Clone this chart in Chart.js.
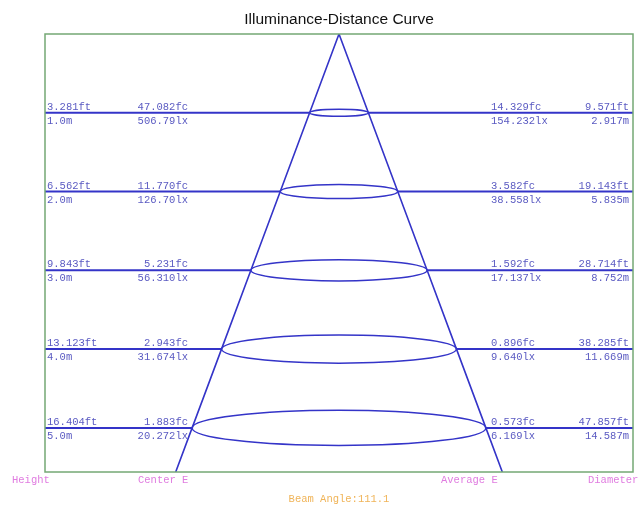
<!DOCTYPE html>
<html>
<head>
<meta charset="utf-8">
<title>Illuminance-Distance Curve</title>
<script src="https://cdn.jsdelivr.net/npm/chart.js@4"></script>
<style>
  body { margin: 0; background: #fff; }
  #wrap { width: 638px; height: 508px; }
</style>
</head>
<body>
<div id="wrap"><canvas id="curve" width="638" height="508"></canvas></div>
<script>
// values
const heightsM = [1, 2, 3, 4, 5];
const heightsFt = ['3.281', '6.562', '9.843', '13.123', '16.404'];
const centerFc = ['47.082', '11.770', '5.231', '2.943', '1.883'];
const centerLx = ['506.79', '126.70', '56.310', '31.674', '20.272'];
const averageFc = ['14.329', '3.582', '1.592', '0.896', '0.573'];
const averageLx = ['154.232', '38.558', '17.137', '9.640', '6.169'];
const diameterFt = ['9.571', '19.143', '28.714', '38.285', '47.857'];
const diameterM = [2.917, 5.835, 8.752, 11.669, 14.587];
const beamAngle = '111.1';
const bottomLabels = ['Height', 'Center E', 'Average E', 'Diameter'];

const xMax = 14.6;     // half width of the frame, metres
const yMax = 5.56;     // depth of the frame, metres
const lineColor = '#3434c8';
const textColor = '#5a5ac2';

// cone edges go through the apex and the edge of every light circle
function coneSide(sign) {
    const pts = [{x: 0, y: 0}];
    heightsM.forEach((h, i) => pts.push({x: sign * diameterM[i] / 2, y: h}));
    const last = heightsM.length - 1;
    pts.push({x: sign * diameterM[last] / 2 * yMax / heightsM[last], y: yMax});
    return pts;
}

const datasets = [
    {data: coneSide(-1), borderWidth: 1.6},
    {data: coneSide(1), borderWidth: 1.6}
];
heightsM.forEach((h, i) => {
    const r = diameterM[i] / 2;
    datasets.push({data: [{x: -xMax, y: h}, {x: -r, y: h}], borderWidth: 2});
    datasets.push({data: [{x: r, y: h}, {x: xMax, y: h}], borderWidth: 2});
});
datasets.forEach(ds => {
    ds.showLine = true;
    ds.borderColor = lineColor;
    ds.pointRadius = 0;
    ds.fill = false;
});

const drawExtras = {
    id: 'drawExtras',
    afterDatasetsDraw(chart) {
        const ctx = chart.ctx;
        const xs = chart.scales.x, ys = chart.scales.y;
        const area = chart.chartArea;
        ctx.save();

        // light circles seen in perspective
        ctx.strokeStyle = lineColor;
        ctx.lineWidth = 1.5;
        heightsM.forEach((h, i) => {
            const cx = xs.getPixelForValue(0);
            const cy = ys.getPixelForValue(h);
            const rx = xs.getPixelForValue(diameterM[i] / 2) - cx;
            ctx.beginPath();
            ctx.ellipse(cx, cy, rx, rx * 0.12, 0, 0, Math.PI * 2);
            ctx.stroke();
        });

        // frame
        ctx.strokeStyle = '#74a874';
        ctx.lineWidth = 1.5;
        ctx.strokeRect(area.left, area.top, area.right - area.left, area.bottom - area.top);

        // title
        ctx.fillStyle = '#111';
        ctx.font = '15.5px "Liberation Sans", Arial, sans-serif';
        ctx.textAlign = 'center';
        ctx.textBaseline = 'middle';
        ctx.fillText('Illuminance-Distance Curve', (area.left + area.right) / 2, 20);

        // row labels
        ctx.font = '10.5px "Liberation Mono", monospace';
        ctx.fillStyle = textColor;
        heightsM.forEach((h, i) => {
            const py = ys.getPixelForValue(h);
            const up = py - 3, down = py + 3;
            ctx.textBaseline = 'alphabetic';
            ctx.textAlign = 'left';
            ctx.fillText(heightsFt[i] + 'ft', area.left + 2, up);
            ctx.fillText(averageFc[i] + 'fc', 491, up);
            ctx.textAlign = 'right';
            ctx.fillText(centerFc[i] + 'fc', 188, up);
            ctx.fillText(diameterFt[i] + 'ft', area.right - 4, up);
            ctx.textBaseline = 'top';
            ctx.textAlign = 'left';
            ctx.fillText(h.toFixed(1) + 'm', area.left + 2, down);
            ctx.fillText(averageLx[i] + 'lx', 491, down);
            ctx.textAlign = 'right';
            ctx.fillText(centerLx[i] + 'lx', 188, down);
            ctx.fillText(diameterM[i].toFixed(3) + 'm', area.right - 4, down);
        });

        // column names and beam angle
        ctx.textBaseline = 'middle';
        ctx.textAlign = 'left';
        ctx.fillStyle = '#e07ce0';
        const colX = [12, 138, 441, 588];
        bottomLabels.forEach((t, i) => ctx.fillText(t, colX[i], 480));
        ctx.fillStyle = '#f0b458';
        ctx.textAlign = 'center';
        ctx.fillText('Beam Angle:' + beamAngle, (area.left + area.right) / 2, 499);
        ctx.restore();
    }
};

new Chart(document.getElementById('curve'), {
    type: 'scatter',
    data: {datasets: datasets},
    options: {
        responsive: false,
        animation: false,
        layout: {padding: {left: 45, top: 34, right: 5, bottom: 36}},
        plugins: {legend: {display: false}, tooltip: {enabled: false}},
        scales: {
            x: {type: 'linear', min: -xMax, max: xMax, display: false},
            y: {type: 'linear', min: 0, max: yMax, reverse: true, display: false}
        }
    },
    plugins: [drawExtras]
});
</script>
</body>
</html>
